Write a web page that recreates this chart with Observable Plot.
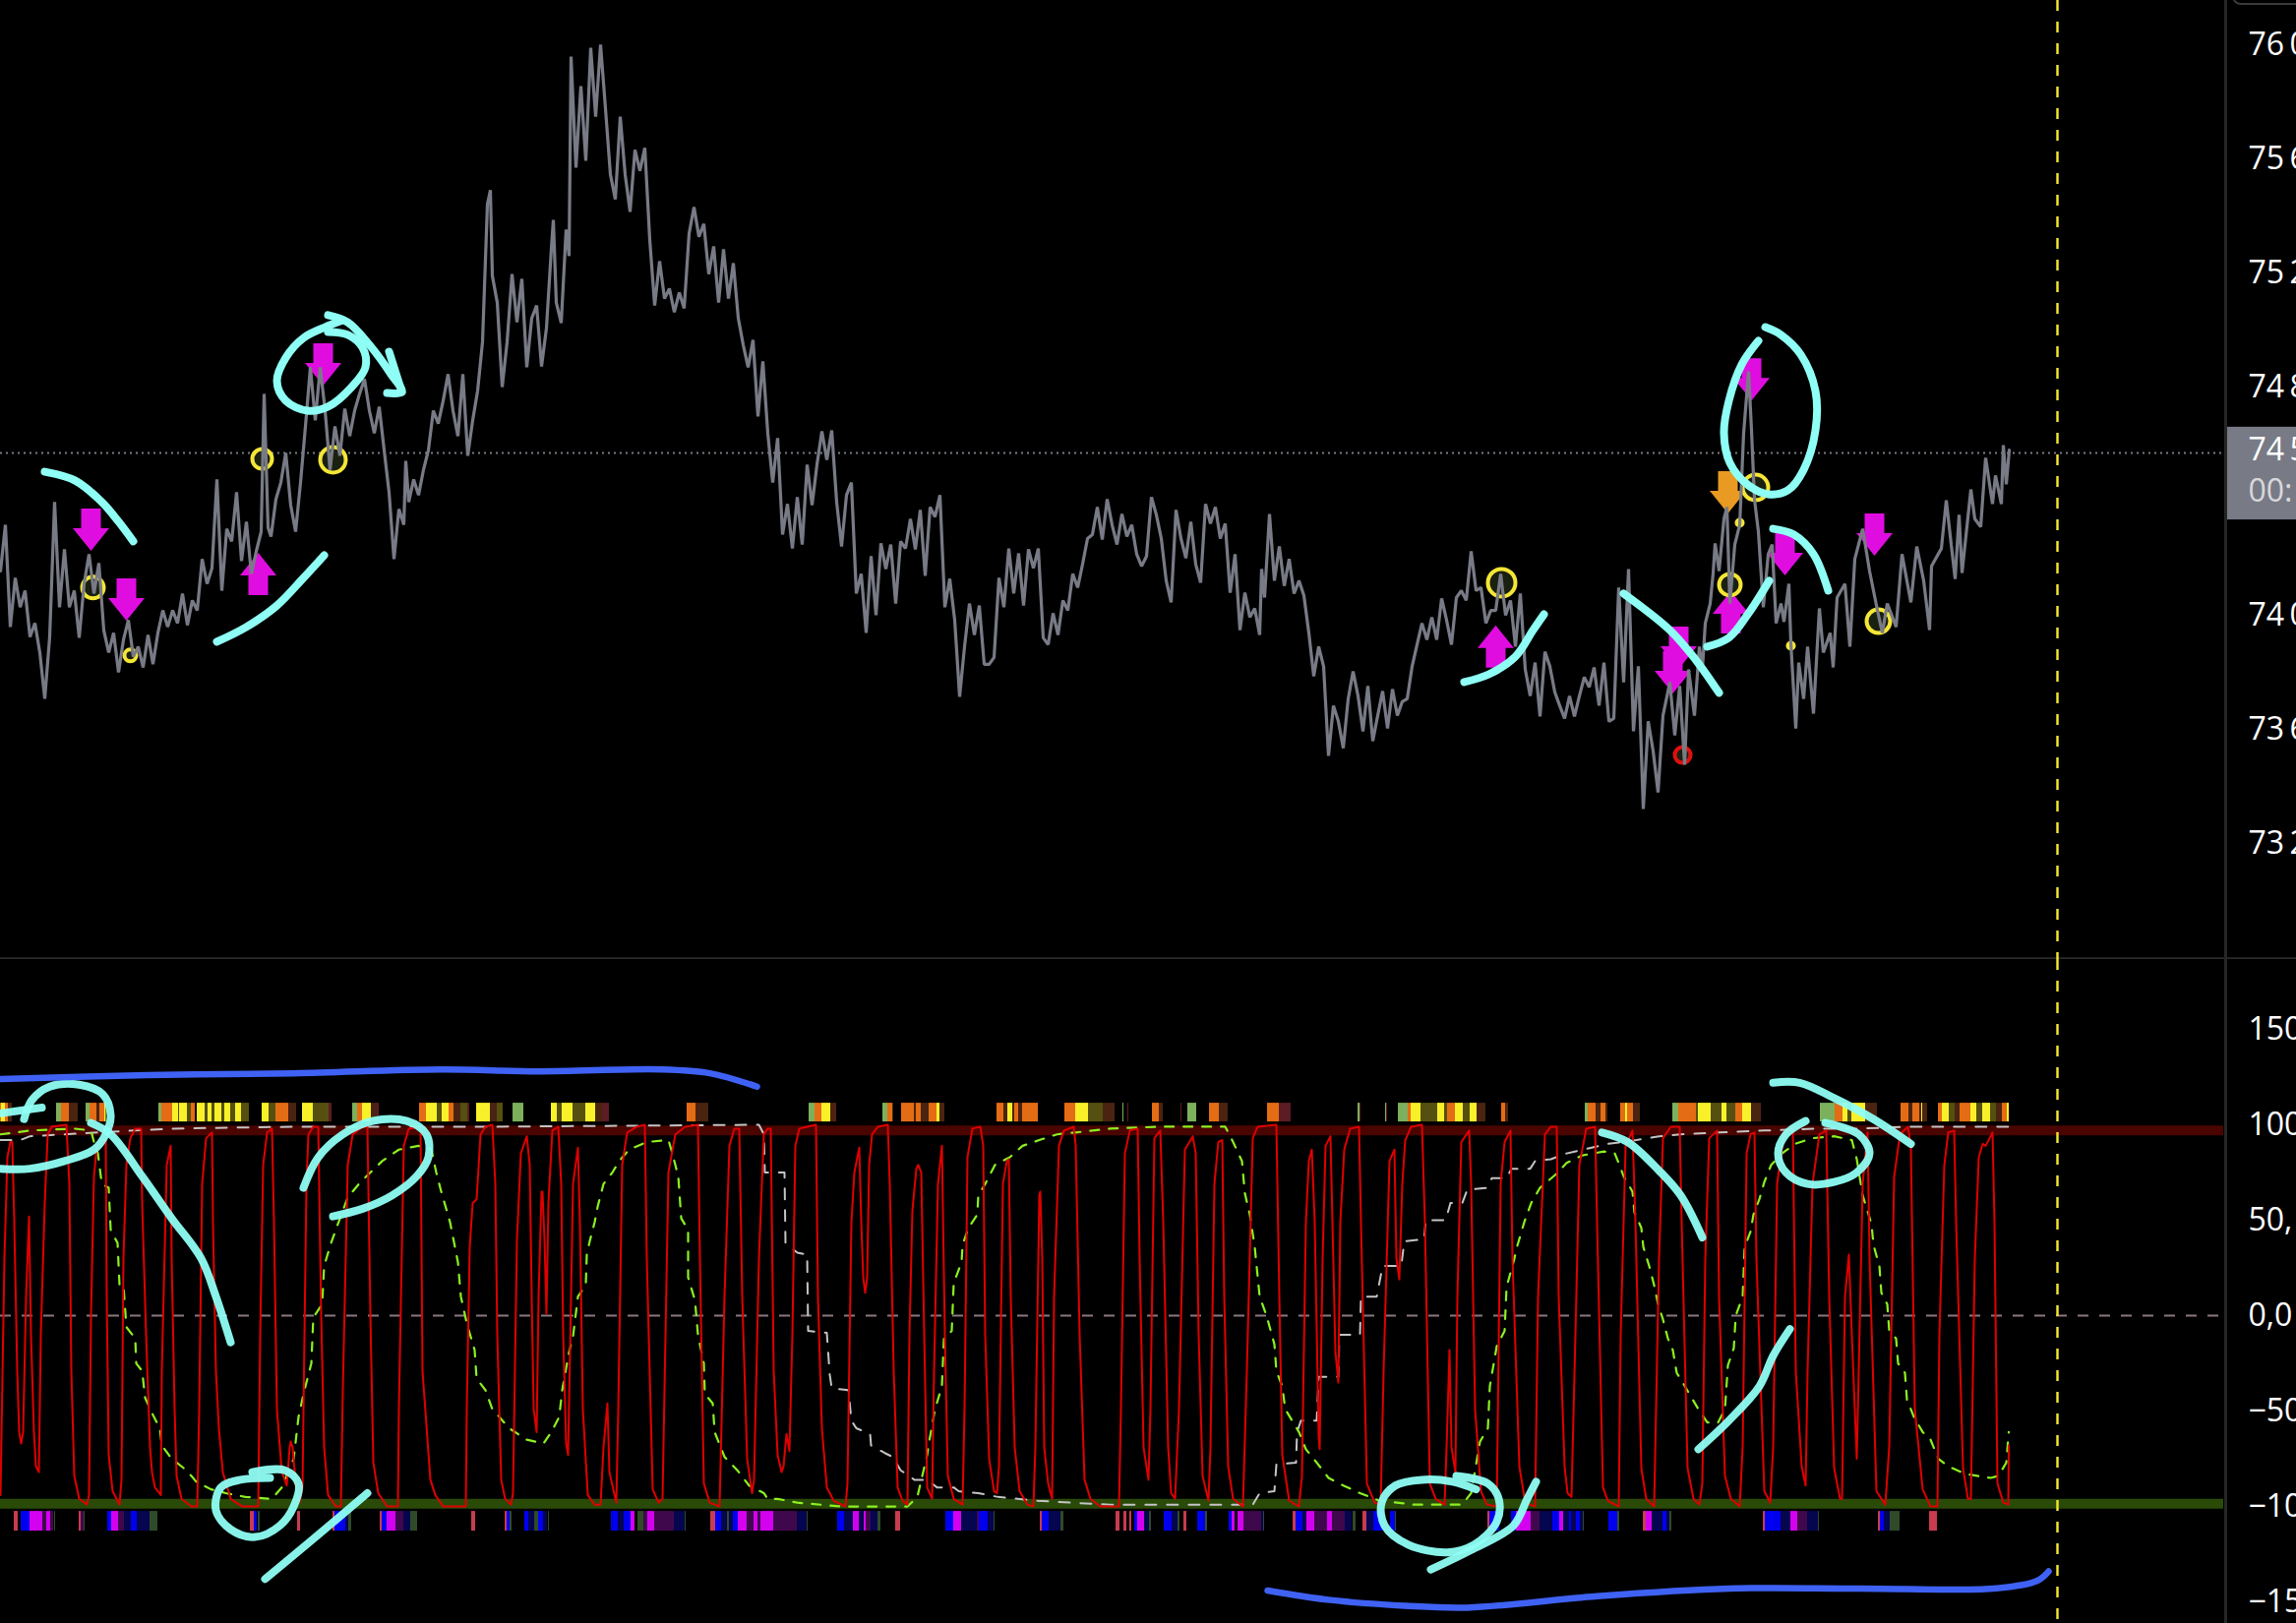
<!DOCTYPE html>
<html><head><meta charset="utf-8">
<script src="https://cdn.jsdelivr.net/npm/d3@7"></script>
<script src="https://cdn.jsdelivr.net/npm/@observablehq/plot@0.6"></script>
<style>html,body{margin:0;padding:0;background:#000;overflow:hidden;width:2334px;height:1650px}#c svg{display:block}</style>
</head><body><div id="c"></div><script>
const priceTicks=[76000,75600,75200,74800,74000,73600,73200];
const oscTicks=[150,100,50,0,-50,-100,-150];
const lastPrice=74565;
const priceBars=[[0,74148],[5,74310],[10,73952],[15,74124],[20,74021],[25,74079],[30,73917],[35,73965],[40,73862],[45,73700],[50,73917],[55,74390],[60,74021],[65,74224],[70,74021],[75,74079],[80,73914],[85,74103],[90,74207],[95,74069],[100,74176],[105,73941],[110,73862],[115,73931],[120,73793],[125,73907],[130,73976],[135,73848],[140,73883],[145,73810],[150,73924],[155,73821],[160,73931],[165,74010],[170,73952],[175,74010],[180,73965],[185,74069],[190,73958],[195,74045],[200,74010],[205,74190],[210,74103],[215,74158],[220,74469],[225,74079],[230,74296],[235,74252],[240,74424],[245,74183],[250,74321],[255,74138],[260,74217],[265,74286],[268,74769],[272,74300],[275,74269],[280,74400],[285,74458],[290,74562],[295,74379],[300,74286],[305,74458],[310,74655],[315,74862],[320,74676],[325,74862],[330,74710],[335,74503],[340,74655],[345,74552],[350,74717],[355,74621],[360,74710],[365,74769],[370,74821],[375,74710],[380,74631],[385,74724],[390,74572],[395,74424],[400,74190],[405,74365],[410,74310],[412,74534],[415,74390],[420,74469],[425,74414],[430,74503],[435,74572],[440,74710],[445,74665],[450,74745],[455,74838],[460,74710],[465,74621],[470,74838],[475,74552],[480,74676],[485,74779],[490,74951],[495,75434],[498,75483],[500,75183],[505,75089],[510,74793],[515,74951],[520,75189],[525,75020],[530,75172],[535,74862],[540,75034],[545,75079],[550,74865],[555,75000],[560,75279],[562,75379],[565,75089],[570,75017],[575,75345],[578,75252],[580,75951],[585,75562],[590,75848],[595,75586],[600,75982],[605,75741],[610,75993],[615,75769],[620,75538],[625,75451],[630,75741],[635,75538],[640,75407],[645,75624],[650,75551],[655,75631],[660,75310],[665,75079],[670,75234],[675,75103],[680,75138],[685,75055],[690,75124],[695,75069],[700,75331],[705,75424],[710,75320],[715,75365],[720,75189],[725,75286],[730,75089],[735,75276],[740,75103],[745,75227],[750,75034],[755,74941],[760,74862],[765,74958],[770,74690],[775,74883],[780,74631],[785,74458],[790,74614],[795,74276],[800,74383],[805,74227],[810,74407],[815,74241],[820,74521],[825,74379],[830,74521],[835,74638],[840,74538],[845,74641],[850,74390],[855,74234],[860,74414],[865,74458],[870,74069],[875,74138],[880,73931],[885,74200],[890,73993],[895,74245],[900,74155],[905,74241],[910,74034],[915,74252],[920,74227],[925,74331],[930,74224],[935,74362],[940,74131],[945,74372],[950,74338],[955,74414],[960,74021],[965,74121],[970,73976],[975,73707],[980,73883],[985,74034],[990,73924],[995,74027],[1000,73821],[1005,73821],[1010,73845],[1015,74124],[1020,74021],[1025,74227],[1030,74069],[1035,74210],[1040,74027],[1045,74224],[1050,74158],[1055,74227],[1060,73914],[1065,73890],[1070,74000],[1075,73924],[1080,74045],[1085,74010],[1090,74138],[1095,74090],[1100,74172],[1105,74262],[1110,74276],[1115,74372],[1120,74258],[1125,74400],[1130,74310],[1135,74241],[1140,74348],[1145,74269],[1150,74310],[1155,74207],[1160,74165],[1165,74200],[1170,74407],[1175,74345],[1180,74262],[1185,74114],[1190,74038],[1195,74362],[1200,74262],[1205,74193],[1210,74321],[1215,74172],[1220,74107],[1225,74383],[1230,74314],[1235,74372],[1240,74262],[1245,74314],[1250,74072],[1255,74207],[1260,73941],[1265,74072],[1270,73986],[1275,74017],[1280,73924],[1282,74155],[1285,74055],[1290,74348],[1295,74114],[1300,74234],[1305,74096],[1310,74190],[1315,74069],[1320,74114],[1325,74062],[1330,73931],[1335,73779],[1340,73883],[1345,73814],[1350,73500],[1355,73676],[1360,73621],[1365,73527],[1370,73700],[1375,73796],[1380,73710],[1385,73586],[1390,73745],[1395,73552],[1400,73641],[1405,73727],[1410,73596],[1415,73734],[1420,73641],[1425,73690],[1430,73700],[1435,73814],[1440,73890],[1445,73965],[1450,73907],[1455,73986],[1460,73907],[1465,74052],[1470,73976],[1475,73890],[1480,74055],[1485,74079],[1490,74045],[1495,74217],[1500,74079],[1505,74090],[1510,73965],[1515,74010],[1520,74010],[1525,74138],[1530,73993],[1535,74045],[1540,73883],[1545,74069],[1550,73803],[1555,73710],[1560,73827],[1565,73638],[1570,73865],[1575,73814],[1580,73724],[1585,73676],[1590,73631],[1595,73710],[1600,73638],[1605,73710],[1610,73776],[1615,73741],[1620,73810],[1625,73676],[1630,73827],[1635,73621],[1640,73631],[1645,74090],[1650,73758],[1655,74155],[1660,73586],[1665,73814],[1670,73314],[1675,73621],[1680,73517],[1685,73372],[1690,73641],[1697,73758],[1702,73572],[1707,73745],[1712,73469],[1716,73803],[1722,73641],[1727,73883],[1730,73800],[1733,73965],[1738,74034],[1741,74141],[1743,74245],[1747,74148],[1752,74331],[1755,74372],[1758,74034],[1763,74241],[1768,74310],[1772,74631],[1777,74848],[1780,74641],[1783,74400],[1787,74286],[1792,74021],[1797,74207],[1801,74241],[1805,73965],[1810,74034],[1813,73970],[1818,74103],[1820,73896],[1825,73596],[1828,73827],[1833,73700],[1837,73883],[1843,73648],[1849,74017],[1853,73862],[1860,73931],[1863,73810],[1867,74055],[1875,74103],[1880,73883],[1885,74190],[1893,74296],[1900,74148],[1908,74010],[1913,73931],[1918,74034],[1927,73952],[1933,74207],[1942,74038],[1948,74234],[1955,74114],[1961,73941],[1963,74165],[1973,74227],[1978,74396],[1983,74241],[1987,74120],[1991,74345],[1994,74141],[2003,74434],[2007,74331],[2013,74303],[2018,74545],[2025,74383],[2028,74483],[2034,74383],[2036,74589],[2039,74452],[2042,74572]];
const oscRed=[[0,-94],[4,30],[7,83],[10,91],[12,91],[14,49],[17,-29],[19,-61],[21,-67],[23,-61],[26,10],[29,52],[31,-10],[34,-61],[36,-79],[39,-82],[41,-10],[45,59],[48,95],[52,99],[67,100],[70,69],[72,-29],[75,-84],[80,-96],[88,-99],[90,-94],[92,0],[95,73],[98,89],[102,92],[107,92],[108,10],[110,-73],[114,-92],[121,-99],[123,-86],[125,30],[128,79],[132,93],[137,98],[143,98],[144,59],[148,-10],[152,-69],[154,-82],[157,-90],[163,-94],[164,-29],[169,79],[173,89],[174,30],[177,-49],[179,-84],[184,-96],[194,-100],[200,-100],[202,-49],[205,69],[209,93],[215,96],[216,49],[219,-29],[222,-59],[226,-82],[234,-96],[246,-100],[262,-100],[264,-10],[267,79],[271,96],[276,98],[278,49],[281,-49],[286,-82],[291,-89],[294,-69],[295,-66],[297,-69],[301,-94],[304,-98],[307,-90],[311,69],[313,95],[318,99],[323,99],[326,0],[329,-69],[333,-94],[341,-100],[346,-100],[348,-39],[353,79],[358,95],[368,99],[373,99],[376,0],[379,-77],[384,-93],[393,-100],[404,-100],[405,-49],[410,89],[415,98],[427,99],[429,-29],[437,-86],[442,-94],[450,-100],[473,-100],[474,-49],[477,36],[480,59],[484,61],[488,95],[493,99],[500,100],[503,69],[505,-10],[509,-86],[513,-96],[519,-99],[521,-93],[525,40],[529,85],[535,94],[538,79],[540,10],[542,-49],[545,-61],[547,10],[550,65],[551,65],[553,40],[555,1],[557,59],[561,97],[567,99],[570,69],[572,-10],[575,-67],[577,-73],[580,10],[582,69],[587,88],[589,49],[592,-49],[597,-94],[604,-99],[610,-99],[613,-69],[617,-46],[619,-82],[626,-98],[628,-49],[632,79],[637,96],[647,99],[655,100],[657,30],[663,-91],[669,-98],[673,-96],[679,75],[686,95],[696,99],[709,100],[711,30],[715,-88],[721,-98],[731,-100],[736,10],[741,89],[746,98],[751,98],[754,10],[759,-75],[764,-93],[766,-86],[771,30],[776,95],[780,98],[783,98],[786,-29],[790,-73],[794,-82],[796,-79],[799,-62],[802,-71],[805,-10],[808,89],[812,98],[820,99],[829,100],[831,10],[835,-59],[840,-90],[847,-97],[859,-100],[861,-88],[865,49],[868,75],[873,88],[875,49],[877,20],[879,12],[881,20],[883,79],[886,95],[892,99],[902,100],[904,69],[908,-29],[912,-90],[917,-97],[922,-99],[924,-10],[927,55],[931,77],[933,79],[936,75],[939,-10],[942,-90],[947,-96],[949,-29],[953,69],[957,89],[960,-10],[963,-84],[969,-96],[978,-99],[980,-49],[983,83],[988,98],[996,99],[999,89],[1001,-10],[1005,-75],[1010,-92],[1013,-93],[1015,-79],[1019,69],[1023,81],[1025,82],[1027,10],[1031,-69],[1036,-92],[1044,-99],[1050,-100],[1052,-69],[1056,63],[1057,65],[1059,30],[1061,-69],[1065,-88],[1069,-96],[1071,10],[1076,89],[1081,97],[1091,99],[1093,89],[1097,-10],[1102,-86],[1108,-96],[1118,-100],[1137,-100],[1139,-49],[1143,85],[1148,97],[1156,98],[1158,30],[1162,-69],[1167,-86],[1169,-49],[1173,93],[1179,97],[1182,49],[1187,-69],[1190,-93],[1194,-96],[1198,-49],[1204,87],[1212,94],[1215,85],[1218,-10],[1222,-84],[1228,-97],[1230,-69],[1234,69],[1238,91],[1242,92],[1244,10],[1248,-79],[1253,-96],[1263,-100],[1267,-29],[1273,93],[1278,99],[1297,100],[1300,10],[1303,-73],[1310,-97],[1320,-100],[1323,-84],[1327,49],[1330,81],[1333,87],[1336,49],[1340,-63],[1341,-70],[1344,30],[1347,89],[1352,94],[1354,49],[1357,-19],[1360,-35],[1362,49],[1366,87],[1372,98],[1381,99],[1383,49],[1389,-88],[1397,-98],[1403,-99],[1406,-29],[1412,81],[1417,87],[1419,30],[1422,19],[1425,69],[1428,92],[1434,99],[1445,100],[1448,49],[1453,-88],[1459,-96],[1468,-99],[1470,-69],[1473,-18],[1475,-69],[1479,-82],[1481,10],[1485,91],[1493,97],[1495,69],[1499,-49],[1505,-92],[1511,-99],[1521,-100],[1525,69],[1529,91],[1535,97],[1537,30],[1544,-79],[1550,-98],[1560,-100],[1563,10],[1570,95],[1576,99],[1582,99],[1584,10],[1590,-79],[1593,-93],[1597,-95],[1601,-10],[1605,79],[1612,98],[1621,99],[1623,49],[1629,-90],[1634,-97],[1645,-100],[1647,-10],[1652,89],[1659,97],[1662,49],[1668,-80],[1673,-96],[1681,-100],[1686,30],[1690,93],[1698,99],[1707,99],[1709,49],[1715,-80],[1721,-96],[1727,-99],[1730,-88],[1733,30],[1737,93],[1745,97],[1747,10],[1753,-84],[1759,-96],[1768,-100],[1771,-69],[1775,85],[1779,95],[1783,96],[1785,30],[1793,-92],[1799,-98],[1802,-69],[1806,69],[1813,95],[1822,99],[1825,-29],[1831,-79],[1835,-89],[1837,-29],[1842,69],[1849,95],[1856,97],[1859,10],[1864,-80],[1870,-96],[1872,-96],[1875,10],[1879,32],[1882,-10],[1887,-75],[1889,-29],[1893,69],[1898,96],[1900,30],[1907,-92],[1916,-99],[1920,-69],[1925,73],[1931,95],[1939,99],[1942,89],[1946,-49],[1954,-91],[1962,-100],[1969,-100],[1971,-10],[1976,79],[1980,96],[1986,97],[1988,49],[1995,-80],[2000,-96],[2003,-96],[2007,30],[2011,83],[2015,90],[2018,89],[2022,93],[2025,96],[2027,49],[2030,-88],[2036,-98],[2041,-99],[2041.5,-68]];
const oscGreen=[[0,95],[30,97],[75,98],[92,97],[95,91],[99,85],[103,69],[110,67],[112,45],[119,38],[121,16],[125,16],[128,-6],[137,-12],[138,-25],[144,-29],[147,-43],[154,-51],[162,-59],[164,-68],[174,-75],[189,-81],[199,-87],[214,-91],[229,-93],[249,-95],[276,-96],[286,-90],[298,-75],[303,-53],[308,-41],[316,-25],[318,-1],[327,6],[329,26],[336,38],[343,48],[353,62],[366,70],[378,76],[388,81],[405,87],[425,89],[438,87],[443,75],[448,65],[457,49],[465,28],[468,10],[474,-4],[482,-18],[484,-33],[493,-39],[500,-49],[507,-53],[517,-59],[535,-65],[552,-67],[560,-61],[568,-53],[571,-39],[578,-19],[582,-11],[587,10],[595,16],[596,32],[599,39],[604,49],[607,57],[613,69],[622,75],[629,81],[639,87],[657,91],[679,92],[683,85],[689,73],[692,51],[699,45],[699,20],[706,8],[709,-10],[715,-25],[716,-41],[724,-46],[726,-61],[736,-74],[749,-81],[761,-89],[776,-93],[780,-96],[790,-96],[810,-98],[855,-100],[922,-100],[932,-95],[942,-73],[944,-66],[950,-49],[957,-37],[959,-12],[967,-8],[969,17],[977,28],[978,37],[984,46],[993,53],[994,63],[1001,69],[1011,79],[1026,83],[1039,89],[1056,92],[1074,95],[1093,96],[1128,98],[1178,99],[1228,99],[1245,99],[1253,91],[1262,81],[1265,64],[1270,53],[1275,36],[1280,10],[1287,0],[1295,-15],[1297,-29],[1303,-37],[1306,-49],[1313,-55],[1320,-61],[1327,-70],[1338,-77],[1350,-85],[1365,-89],[1382,-93],[1402,-97],[1437,-99],[1486,-99],[1495,-93],[1504,-66],[1512,-59],[1514,-37],[1521,-16],[1529,-8],[1531,15],[1539,30],[1541,35],[1549,49],[1556,59],[1565,67],[1581,74],[1592,80],[1608,84],[1630,86],[1641,85],[1645,80],[1650,73],[1659,65],[1661,54],[1668,46],[1670,36],[1676,26],[1681,16],[1685,6],[1690,-2],[1695,-12],[1700,-18],[1704,-30],[1710,-35],[1718,-42],[1726,-49],[1735,-56],[1746,-56],[1753,-49],[1756,-26],[1762,-17],[1764,0],[1771,10],[1773,36],[1779,44],[1782,53],[1788,61],[1793,70],[1800,79],[1811,85],[1824,90],[1842,93],[1864,94],[1882,92],[1887,82],[1893,63],[1902,48],[1904,37],[1910,26],[1912,12],[1918,6],[1920,-8],[1927,-12],[1929,-25],[1936,-30],[1938,-44],[1945,-53],[1954,-61],[1962,-65],[1970,-75],[1980,-79],[1998,-83],[2023,-85],[2031,-84],[2039,-77],[2041.5,-61]];
const oscWhite=[[0,92],[20,92],[30,94],[65,95],[99,96],[174,98],[298,99],[497,99],[771,100],[776,95],[777,75],[797,75],[798,38],[810,33],[820,32],[821,-8],[840,-9],[843,-31],[845,-38],[862,-39],[865,-55],[870,-59],[884,-62],[885,-68],[899,-72],[907,-74],[915,-81],[929,-86],[942,-86],[952,-90],[969,-90],[974,-92],[994,-93],[1014,-95],[1034,-96],[1054,-97],[1088,-98],[1128,-99],[1203,-99],[1273,-99],[1280,-93],[1295,-92],[1297,-78],[1317,-77],[1318,-61],[1322,-55],[1338,-55],[1340,-32],[1360,-32],[1361,-10],[1382,-10],[1383,10],[1399,10],[1405,26],[1424,26],[1427,39],[1447,40],[1449,50],[1469,50],[1474,59],[1486,59],[1491,66],[1511,67],[1516,72],[1531,72],[1536,77],[1555,77],[1560,81],[1576,82],[1592,85],[1634,90],[1663,92],[1686,94],[1708,95],[1748,96],[1793,97],[1846,98],[1891,98],[1936,99],[2041,99]];
const topStrip=[[0,1,"O"],[1,5,"Y"],[5,8,"O"],[8,12,"B"],[57,62,"G"],[62,70,"O"],[70,79,"B"],[87,91,"G"],[91,98,"O"],[98,101,"B"],[101,106,"O"],[106,107.5,"Y"],[161,164,"G"],[164,175,"O"],[175,181,"Y"],[181,182,"D"],[182,190,"Y"],[190,194,"D"],[194,198,"O"],[200,208,"Y"],[208,211,"D"],[211,215,"Y"],[215,218,"D"],[218,225,"Y"],[225,228,"D"],[228,234,"Y"],[234,239,"D"],[239,245,"Y"],[245,253,"D"],[266,273,"Y"],[273,280,"D"],[280,293,"O"],[293,301,"B"],[307,318,"Y"],[318,334,"D"],[334,337,"R"],[358,363,"G"],[363,368,"O"],[368,377,"Y"],[377,383,"B"],[383,385,"R"],[426,433,"O"],[433,444,"Y"],[444,449,"D"],[449,456,"Y"],[456,461,"O"],[461,468,"B"],[468,475,"D"],[475,477,"R"],[484,498,"Y"],[498,505,"B"],[505,511,"D"],[521,532,"G"],[560,566,"Y"],[566,571,"D"],[571,582,"Y"],[582,595,"D"],[595,605,"Y"],[605,612,"B"],[612,619,"R"],[698,707,"O"],[707,720,"B"],[822,828,"G"],[828,835,"O"],[835,844,"Y"],[844,849,"B"],[849,850,"R"],[897,902,"G"],[902,907,"O"],[907,908,"B"],[916,929,"O"],[929,931,"B"],[931,936,"O"],[936,944,"B"],[944,952,"O"],[952,955,"Y"],[955,960,"B"],[1013,1020,"O"],[1020,1024,"B"],[1024,1029,"Y"],[1029,1031,"B"],[1031,1035,"O"],[1035,1039,"B"],[1039,1055,"O"],[1082,1093,"O"],[1093,1106,"Y"],[1106,1121,"D"],[1121,1133,"B"],[1141,1142,"G"],[1146,1147,"R"],[1171,1178,"O"],[1178,1182,"B"],[1200,1201,"R"],[1207,1216,"G"],[1229,1239,"O"],[1239,1248,"B"],[1288,1300,"O"],[1300,1312,"R"],[1380,1382,"G"],[1382,1383,"R"],[1408,1409,"G"],[1409,1410,"R"],[1421,1431,"G"],[1431,1434,"O"],[1434,1444,"Y"],[1444,1461,"D"],[1461,1468,"Y"],[1468,1471,"D"],[1471,1479,"O"],[1479,1487,"Y"],[1487,1494,"D"],[1494,1501,"Y"],[1501,1510,"B"],[1526,1530,"O"],[1530,1533,"B"],[1611,1614,"G"],[1614,1622,"O"],[1622,1627,"B"],[1627,1632,"O"],[1632,1634,"B"],[1647,1652,"O"],[1652,1654,"Y"],[1654,1660,"O"],[1660,1667,"B"],[1700,1706,"G"],[1706,1724,"O"],[1724,1726,"D"],[1726,1739,"Y"],[1739,1750,"D"],[1750,1755,"Y"],[1755,1764,"D"],[1764,1771,"O"],[1771,1780,"Y"],[1780,1789,"B"],[1789,1790,"R"],[1850,1865,"G"],[1865,1873,"O"],[1873,1878,"Y"],[1878,1882,"D"],[1882,1896,"Y"],[1896,1908,"B"],[1932,1940,"O"],[1940,1944,"B"],[1944,1951,"O"],[1951,1953,"B"],[1953,1954,"Y"],[1954,1959,"B"],[1970,1974,"O"],[1974,1981,"Y"],[1981,1987,"D"],[1987,1992,"B"],[1992,2003,"O"],[2003,2009,"Y"],[2009,2015,"D"],[2015,2023,"Y"],[2023,2029,"D"],[2029,2035,"B"],[2035,2040,"O"],[2040,2042,"Y"]];
const bottomStrip=[[14,18,"R2"],[21,30,"L"],[30,43,"M"],[43,47,"P"],[47,51,"M"],[51,54,"P"],[55,56,"E"],[80,82,"R2"],[82,85,"P"],[85,86,"E"],[109,113,"L"],[113,120,"M"],[120,126,"P"],[126,133,"N"],[133,139,"L"],[139,152,"N"],[152,160,"E"],[254,258,"R2"],[258,261,"L"],[262,264,"E"],[302,305,"R2"],[338,340,"R2"],[340,351,"L"],[351,354,"N"],[354,357,"E"],[386,388,"R2"],[388,393,"L"],[393,402,"M"],[402,410,"P"],[410,417,"N"],[417,424,"E"],[479,483,"R2"],[513,515,"R2"],[515,518,"L"],[518,520,"E"],[533,537,"L"],[537,543,"N"],[543,547,"E"],[547,552,"L"],[552,556,"N"],[557,558,"E"],[621,628,"L"],[628,634,"N"],[634,641,"L"],[641,645,"M"],[648,654,"E"],[654,658,"P"],[658,665,"M"],[665,685,"P"],[685,696,"N"],[696,697,"E"],[722,727,"R2"],[727,733,"L"],[733,739,"N"],[739,741,"E"],[741,745,"N"],[745,750,"L"],[750,759,"M"],[759,766,"P"],[766,770,"M"],[770,773,"P"],[773,786,"M"],[786,810,"P"],[810,820,"N"],[820,821,"E"],[851,858,"L"],[858,867,"N"],[867,873,"M"],[873,878,"N"],[878,880,"M"],[880,885,"P"],[885,892,"N"],[892,895,"E"],[910,915,"R2"],[961,969,"L"],[969,977,"M"],[977,993,"N"],[993,995,"P"],[995,1004,"L"],[1004,1010,"N"],[1010,1011,"E"],[1057,1059,"R2"],[1059,1066,"L"],[1066,1078,"N"],[1078,1081,"E"],[1134,1138,"R2"],[1142,1145,"R2"],[1148,1150,"R2"],[1153,1156,"L"],[1156,1163,"M"],[1163,1168,"N"],[1168,1170,"E"],[1183,1191,"L"],[1191,1197,"N"],[1197,1199,"E"],[1203,1206,"R2"],[1217,1225,"L"],[1225,1227,"E"],[1249,1252,"L"],[1252,1255,"M"],[1258,1264,"M"],[1264,1282,"P"],[1282,1284,"N"],[1284,1285,"E"],[1314,1317,"R2"],[1317,1324,"L"],[1324,1328,"N"],[1328,1336,"M"],[1336,1349,"P"],[1349,1354,"M"],[1354,1367,"P"],[1367,1374,"N"],[1375,1378,"E"],[1385,1389,"R2"],[1389,1396,"N"],[1396,1406,"L"],[1413,1418,"L"],[1418,1419,"E"],[1512,1514,"R2"],[1514,1524,"L"],[1536,1541,"L"],[1541,1556,"M"],[1556,1565,"P"],[1565,1578,"N"],[1578,1585,"L"],[1585,1589,"M"],[1589,1595,"N"],[1595,1597,"L"],[1597,1602,"N"],[1602,1606,"L"],[1606,1609,"N"],[1609,1610,"E"],[1635,1644,"L"],[1644,1646,"E"],[1670,1673,"R2"],[1673,1679,"M"],[1679,1690,"N"],[1690,1694,"L"],[1694,1697,"N"],[1697,1699,"E"],[1792,1794,"R2"],[1794,1810,"L"],[1810,1820,"N"],[1820,1827,"M"],[1827,1837,"P"],[1837,1848,"N"],[1848,1849,"E"],[1909,1911,"R2"],[1911,1915,"L"],[1915,1921,"N"],[1921,1931,"E"],[1961,1969,"R2"]];
const stripColors={O:"#e46c14",Y:"#f8f12a",D:"#55500f",B:"#4a2410",R:"#5c1c24",G:"#7cb05c",R2:"#c83c50",L:"#0000f0",M:"#d400f0",P:"#40084c",N:"#050550",E:"#2f4a28"};
const arrowsDown=[[92,74293],[128,74048],[328,74872],[1706,73879],[1700,73793],[1780,74820],[1814,74207],[1905,74276]];
const arrowsUp=[[262,74138],[1520,73883],[1759,74003]];
const arrowsOrange=[[1756,74424]];
const ringsYellow=[[94,74090,11],[132,73852,6],[266,74541,10],[338,74538,13],[1526,74107,14],[1784,74441,13],[1758,74100,11],[1909,73972,12]];
const dotsYellow=[[1768,74317,5],[1820,73886,5]];
const ringsRed=[[1710,73503,8]];
const penUpper=[
 [[45,74496],[76,74465],[103,74390],[120,74321],[135,74252]],
 [[220,73900],[250,73952],[281,74027],[308,74124],[329,74203]],
 [[348,75027],[330,75003],[308,74965],[290,74896],[281,74814],[290,74745],[312,74710],[333,74724],[357,74793],[371,74862],[368,74931],[353,74976],[333,74986]],
 [[333,75045],[353,75020],[375,74941],[397,74838],[408,74776],[393,74772]],
 [[395,74917],[408,74776]],
 [[1488,73759],[1513,73786],[1540,73848],[1558,73941],[1569,73996]],
 [[1650,74069],[1697,73941],[1723,73838],[1747,73721]],
 [[1735,73883],[1757,73914],[1777,74000],[1798,74114]],
 [[1787,74955],[1770,74872],[1757,74745],[1752,74631],[1758,74527],[1777,74448],[1797,74417],[1817,74431],[1833,74503],[1845,74641],[1845,74779],[1830,74907],[1810,74976],[1794,75003]],
 [[1802,74296],[1823,74276],[1843,74207],[1858,74079]]];
const penLower=[
 [[0,77],[30,77],[65,81],[95,87],[107,95],[112,105],[104,116],[80,121],[50,120],[32,113],[24,103]],
 [[0,106],[42,109]],
 [[92,101],[112,95],[144,73],[174,51],[204,30],[219,10],[234,-14]],
 [[308,67],[323,83],[348,95],[378,102],[413,102],[433,95],[435,83],[423,73],[398,63],[368,56],[338,52]],
 [[256,-82],[289,-81],[303,-88],[298,-100],[284,-110],[259,-116],[234,-112],[219,-102],[224,-90],[244,-86],[274,-85]],
 [[269,-138],[318,-117],[373,-93]],
 [[1500,-91],[1476,-87],[1445,-86],[1418,-89],[1404,-98],[1407,-110],[1431,-120],[1471,-124],[1498,-120],[1521,-108],[1523,-96],[1512,-88],[1480,-84]],
 [[1454,-133],[1494,-123],[1538,-110],[1552,-96],[1561,-87]],
 [[1628,96],[1654,91],[1686,76],[1708,63],[1730,41]],
 [[1726,-70],[1757,-55],[1788,-37],[1802,-21],[1819,-7]],
 [[1835,102],[1815,95],[1807,85],[1815,75],[1837,69],[1864,70],[1887,75],[1900,85],[1889,95],[1855,101]],
 [[1802,122],[1829,122],[1864,114],[1904,103],[1942,90]]];
const penBlue=[
 [[0,124],[149,126],[298,127],[448,129],[547,128],[672,129],[721,127],[769,120]],
 [[1288,-144],[1352,-149],[1427,-152],[1491,-153],[1623,-147],[1757,-143],[1891,-143],[2025,-143],[2070,-139],[2082,-134]]];

const arrowShape=dir=>({draw(c){const s=dir;
  c.moveTo(-10,-21.5*s);c.lineTo(10,-21.5*s);c.lineTo(10,-1.5*s);c.lineTo(18.5,-1.5*s);c.lineTo(0,21.5*s);c.lineTo(-18.5,-1.5*s);c.lineTo(-10,-1.5*s);c.closePath();}});
const base={width:2334,marginTop:0,marginLeft:0,marginBottom:0,marginRight:74,
  style:{background:"#000",color:"#fff",fontFamily:"'Open Sans',sans-serif",fontSize:"32px",overflow:"hidden"}};
const xScale={domain:[0,2260],range:[0,2260]};
const pen={x:d=>d[0],y:d=>d[1],curve:"catmull-rom",stroke:"#8ffff5",strokeWidth:8,strokeLinecap:"round",strokeLinejoin:"round"};
const priceFmt=d=>`${Math.floor(d/1000)}\u2009${String(d%1000)[0]}`;
const oscFmt=d=>`${d<0?"\u2212":""}${Math.abs(d).toFixed(2).replace(".",",")}`.slice(0,3);
const axisRule=Plot.ruleX([2262],{stroke:"#262626",strokeWidth:3});
const yellowRule=Plot.ruleX([2091],{stroke:"#f7e92c",strokeWidth:2.4,strokeDasharray:"11 11"});

const pricePanel=Plot.plot({...base,height:975,x:{...xScale,axis:null},y:{domain:[72786,76148],range:[975,0],axis:null},r:{type:"identity"},marks:[
  Plot.ruleY([lastPrice-3],{x1:0,x2:2260,stroke:"#787b86",strokeWidth:2,strokeDasharray:"2 4"}),
  Plot.dot(arrowsDown,{x:d=>d[0],y:d=>d[1],symbol:arrowShape(1),fill:"#e00de0",stroke:"none"}),
  Plot.dot(arrowsUp,{x:d=>d[0],y:d=>d[1],symbol:arrowShape(-1),fill:"#e00de0",stroke:"none"}),
  Plot.dot(arrowsOrange,{x:d=>d[0],y:d=>d[1],symbol:arrowShape(1),fill:"#e89a22",stroke:"none"}),
  Plot.dot(ringsYellow,{x:d=>d[0],y:d=>d[1],r:d=>d[2],fill:"#1a2010",stroke:"#f5e636",strokeWidth:4}),
  Plot.dot(dotsYellow,{x:d=>d[0],y:d=>d[1],r:d=>d[2],fill:"#f5e636",stroke:"none"}),
  Plot.dot(ringsRed,{x:d=>d[0],y:d=>d[1],r:d=>d[2],fill:"#1a2010",stroke:"#e01010",strokeWidth:4}),
  Plot.line(priceBars,{x:d=>d[0],y:d=>d[1],stroke:"#787b86",strokeWidth:3.2,strokeLinejoin:"miter"}),
  ...penUpper.map(p=>Plot.line(p,pen)),
  Plot.ruleY([72790],{x1:0,x2:2334,stroke:"#2a2a2a",strokeWidth:2}),
  Plot.rect([0],{x1:2263,x2:2334,y1:74327,y2:74652,fill:"#787b86"}),
  Plot.rect([0],{x1:2270,x2:2400,y1:76134,y2:76190,rx:8,fill:"none",stroke:"#3a3a3a",strokeWidth:2}),
  axisRule,yellowRule,
  Plot.axisY({anchor:"right",ticks:priceTicks,tickSize:0,tickPadding:25,tickFormat:priceFmt,fill:"#fff",fontSize:32,dy:2}),
  Plot.text([priceFmt(lastPrice)],{x:2285,y:74572,text:d=>d,textAnchor:"start",fill:"#fff",fontSize:32}),
  Plot.text(["00:"],{x:2285,y:74427,text:d=>d,textAnchor:"start",fill:"#d8d8dc",fontSize:32})
]});

const oscPanel=Plot.plot({...base,height:675,x:{...xScale,axis:null},y:{domain:[-161.3,186.6],range:[675,0],axis:null},marks:[
  Plot.ruleY([97],{x1:0,x2:2260,stroke:"#4a0500",strokeWidth:10}),
  Plot.ruleY([-98.5],{x1:0,x2:2260,stroke:"#2a4a08",strokeWidth:10}),
  Plot.ruleY([0],{x1:0,x2:2257,stroke:"#8a7880",strokeWidth:2,strokeDasharray:"11 11"}),
  Plot.rect(topStrip,{x1:d=>d[0],x2:d=>d[1],y1:111.3,y2:101.5,fill:d=>stripColors[d[2]]}),
  Plot.rect(bottomStrip,{x1:d=>d[0],x2:d=>d[1],y1:-102.6,y2:-112.9,fill:d=>stripColors[d[2]]}),
  Plot.line(oscWhite,{x:d=>d[0],y:d=>d[1],stroke:"#c4c4c4",strokeWidth:2,strokeDasharray:"11 11"}),
  Plot.line(oscGreen,{x:d=>d[0],y:d=>d[1],stroke:"#8cf020",strokeWidth:2.2,strokeDasharray:"9 10"}),
  Plot.line(oscRed,{x:d=>d[0],y:d=>d[1],stroke:"#e00000",strokeWidth:2}),
  ...penLower.map(p=>Plot.line(p,{...pen,opacity:0.95})),
  ...penBlue.map(p=>Plot.line(p,{...pen,stroke:"#3f62f5",strokeWidth:6.5})),
  axisRule,yellowRule,
  Plot.axisY({anchor:"right",ticks:oscTicks,tickSize:0,tickPadding:25,tickFormat:oscFmt,fill:"#fff",fontSize:32})
]});
document.getElementById("c").append(pricePanel,oscPanel);
</script></body></html>
